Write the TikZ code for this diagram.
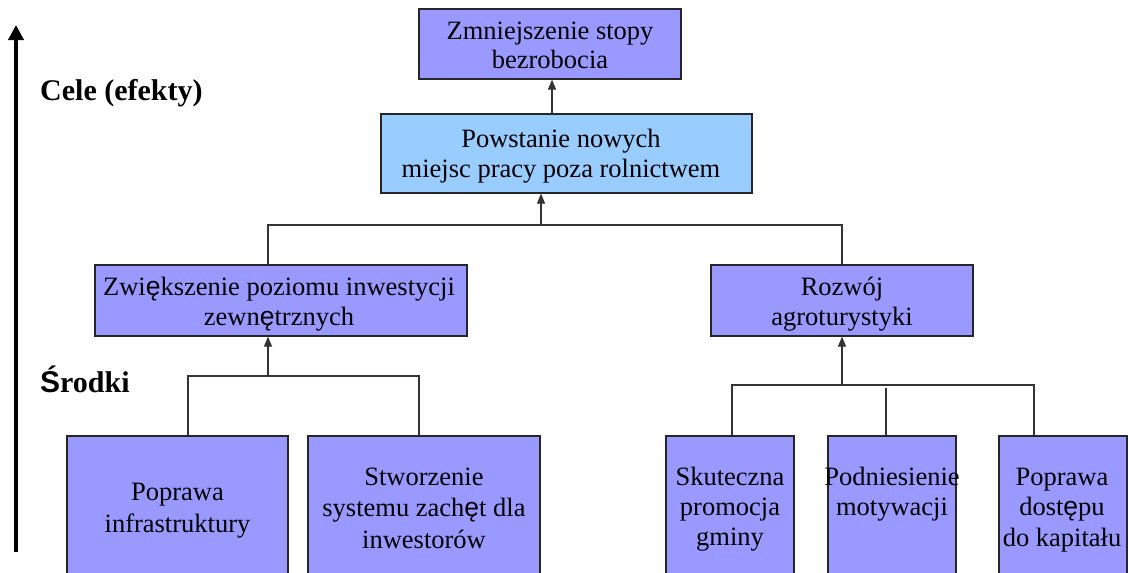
\documentclass[tikz,border=0pt]{standalone}
\usepackage{fontspec}
\setmainfont{Liberation Serif}
\newfontfamily\sansf{Liberation Sans}
\usetikzlibrary{arrows.meta}
\definecolor{boxblue}{HTML}{9999FF}
\definecolor{lightblue}{HTML}{99CCFF}
\newcommand\ee{{\sansf ę}}
\newcommand\mlines[2]{\begin{tabular}[t]{@{}c@{}}#2\end{tabular}}
\tikzset{
  box/.style={draw=black!85, line width=1.2pt, fill=boxblue, inner sep=0pt},
  lbox/.style={box, fill=lightblue},
  conn/.style={draw=black!80, line width=1.1pt},
  arr/.style={conn, -{Triangle[length=10pt,width=8pt]}},
  txt/.style={anchor=base, inner sep=0pt, font=\fontsize{26.5}{30}\selectfont},
  lab/.style={anchor=base west, inner sep=0pt, font=\fontsize{30}{34}\selectfont\bfseries},
}
\begin{document}
\begin{tikzpicture}[x=1pt,y=-1pt]
\useasboundingbox (0,0) rectangle (1128,573);
\clip (0,0) rectangle (1128,573);
% boxes
\node[box, minimum width=262pt, minimum height=70pt] (T) at (550,44) {};
\node[lbox, minimum width=371pt, minimum height=79pt] (P) at (566.5,153.5) {};
\node[box, minimum width=372pt, minimum height=71pt] (Z) at (281,300.5) {};
\node[box, minimum width=262pt, minimum height=71pt] (R) at (842,300.5) {};
\node[box, minimum width=221pt, minimum height=154pt] (B1) at (177.5,513) {};
\node[box, minimum width=232pt, minimum height=154pt] (B2) at (424,513) {};
\node[box, minimum width=128pt, minimum height=154pt] (B3) at (730,513) {};
\node[box, minimum width=128pt, minimum height=154pt] (B4) at (892,513) {};
\node[box, minimum width=128pt, minimum height=154pt] (B5) at (1063,513) {};
% texts
\node[txt] (Tt) at (550,39) {\begin{tabular}[t]{@{}c@{}}Zmniejszenie stopy\\[-1pt]bezrobocia\end{tabular}};
\node[txt] (Pt) at (561,147) {\begin{tabular}[t]{@{}c@{}}Powstanie nowych\\miejsc pracy poza rolnictwem\end{tabular}};
\node[txt] (Zt) at (279,295) {\begin{tabular}[t]{@{}c@{}}Zwi\ee kszenie poziomu inwestycji\\zewn\ee trznych\end{tabular}};
\node[txt] (Rt) at (842,295) {\begin{tabular}[t]{@{}c@{}}Rozwój\\agroturystyki\end{tabular}};
\node[txt] (B1t) at (177.5,500) {\begin{tabular}[t]{@{}c@{}}Poprawa\\[2pt]infrastruktury\end{tabular}};
\node[txt] (B2t) at (424,485) {\begin{tabular}[t]{@{}c@{}}Stworzenie\\[1.5pt]systemu zach\ee t dla\\[1.5pt]inwestorów\end{tabular}};
\node[txt] (B3t) at (730,485) {\begin{tabular}[t]{@{}c@{}}Skuteczna\\promocja\\gminy\end{tabular}};
\node[txt] (B4t) at (892,485) {\begin{tabular}[t]{@{}c@{}}Podniesienie\\motywacji\end{tabular}};
\node[txt] (B5t) at (1062,485) {\begin{tabular}[t]{@{}c@{}}Poprawa\\dost\ee pu\\[1pt]do kapitału\end{tabular}};
% side labels
\node[lab] (cele) at (40,100) {Cele (efekty)};
\node[lab] (srodki) at (40,392) {{\sansf Ś}rodki};
% big arrow
\coordinate (ab) at (16,552);
\coordinate (at) at (16,25);
\draw[line width=4pt, -{Triangle[length=15pt,width=15pt]}] (ab) -- (at);
% connectors
\coordinate (a1) at (552,0);
\draw[arr] (a1 |- P.north) -- (a1 |- T.south);
\coordinate (j0) at (541,225);
\coordinate (jl) at (268,225);
\coordinate (jr) at (842,225);
\draw[arr] (j0) -- (j0 |- P.south);
\draw[conn] (jl |- Z.north) -- (jl) -- (jr) -- (jr |- R.north);
\coordinate (k0) at (268,376);
\coordinate (kl) at (188,376);
\coordinate (kr) at (419,376);
\draw[arr] (k0) -- (k0 |- Z.south);
\draw[conn] (kl |- B1.north) -- (kl) -- (kr) -- (kr |- B2.north);
\coordinate (m0) at (842,385);
\coordinate (ml) at (732,385);
\coordinate (mr) at (1034,385);
\coordinate (mm) at (886,388);
\draw[arr] (m0) -- (m0 |- R.south);
\draw[conn] (ml |- B3.north) -- (ml) -- (mr) -- (mr |- B5.north);
\draw[conn] (mm) -- (mm |- B4.north);
\end{tikzpicture}
\end{document}
